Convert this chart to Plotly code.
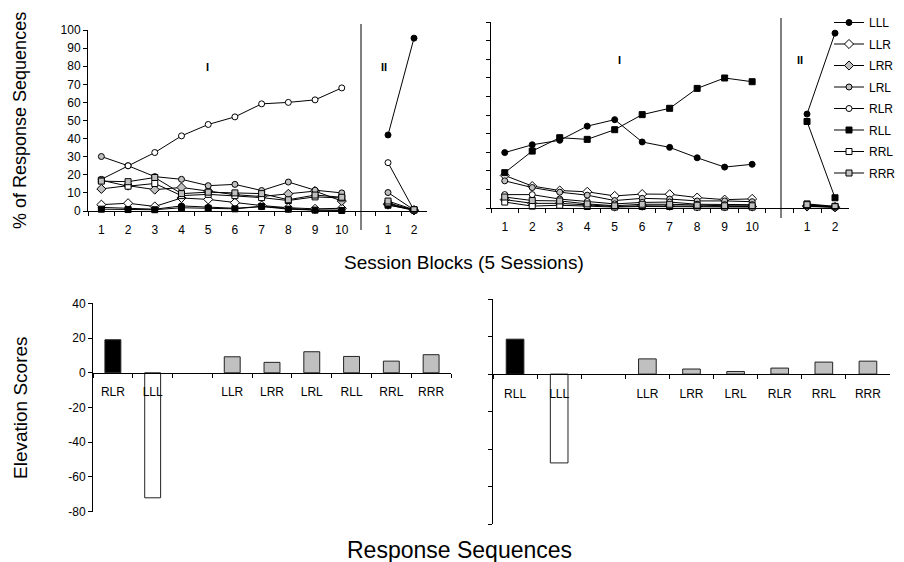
import plotly.graph_objects as go

W, H = 904, 562          # browser window
OFF = 8                  # default page body margin
FW, FH = W - OFF, H - OFF  # figure size

# ---------------- data ----------------
seq_names = ["LLL", "LLR", "LRR", "LRL", "RLR", "RLL", "RRL", "RRR"]
blocks_I = ["1", "2", "3", "4", "5", "6", "7", "8", "9", "10"]
blocks_II = ["1", "2"]

# Left panel (RLR target in phase I)
left_I = {
    "LLL": [2.0, 1.5, 1.0, 2.8, 2.0, 1.5, 2.5, 1.5, 0.5, 0.5],
    "LLR": [3.5, 4.3, 2.5, 7.2, 6.4, 4.6, 3.0, 1.8, 1.2, 1.5],
    "LRR": [12.2, 14.0, 11.8, 13.0, 11.0, 9.0, 8.0, 9.5, 11.0, 5.5],
    "LRL": [30.1, 25.0, 19.0, 17.5, 14.0, 14.7, 11.3, 16.0, 11.5, 10.0],
    "RLR": [17.5, 25.0, 32.3, 41.5, 47.8, 52.0, 59.2, 60.0, 61.4, 68.0],
    "RLL": [1.0, 0.8, 0.7, 1.8, 1.5, 1.2, 2.5, 1.0, 0.5, 0.3],
    "RRL": [17.0, 13.7, 15.2, 8.5, 9.2, 8.5, 7.4, 5.8, 7.8, 7.2],
    "RRR": [16.5, 16.2, 18.5, 9.6, 10.4, 10.0, 9.6, 6.2, 8.8, 7.6],
}
left_II = {
    "LLL": [42.0, 95.5],
    "LLR": [3.5, 0.3],
    "LRR": [4.0, 0.5],
    "LRL": [10.2, 0.6],
    "RLR": [26.7, 0.4],
    "RLL": [3.2, 0.8],
    "RRL": [4.5, 0.5],
    "RRR": [5.5, 0.7],
}
# Right panel (RLL target in phase I)
right_I = {
    "LLL": [29.8, 34.0, 36.4, 44.0, 47.5, 35.5, 32.6, 27.0, 22.0, 23.5],
    "LLR": [17.5, 11.8, 9.4, 8.7, 6.5, 7.5, 7.4, 5.6, 4.5, 4.9],
    "LRR": [4.5, 2.5, 2.5, 1.5, 0.8, 1.2, 1.2, 0.8, 0.8, 0.8],
    "LRL": [14.6, 11.0, 8.5, 6.9, 4.0, 5.2, 4.8, 3.8, 3.8, 3.4],
    "RLR": [7.2, 7.2, 4.8, 3.5, 2.2, 3.0, 3.2, 2.0, 1.8, 1.8],
    "RLL": [19.0, 30.6, 37.8, 36.9, 42.1, 50.2, 53.6, 64.3, 69.9, 67.9],
    "RRL": [3.2, 1.0, 1.5, 0.8, 0.5, 0.8, 0.8, 0.5, 0.5, 0.5],
    "RRR": [5.9, 4.0, 3.8, 2.2, 1.2, 2.0, 2.0, 1.5, 1.2, 1.2],
}
right_II = {
    "LLL": [50.5, 94.0],
    "LLR": [1.2, 0.5],
    "LRR": [0.8, 0.4],
    "LRL": [1.0, 0.5],
    "RLR": [1.5, 0.6],
    "RLL": [46.5, 5.5],
    "RRL": [2.2, 0.9],
    "RRR": [1.8, 0.7],
}

# Elevation scores
elev_left_cats = ["RLR", "LLL", " ", "LLR", "LRR", "LRL", "RLL", "RRL", "RRR"]
elev_left_vals = [19.0, -72.0, None, 9.2, 6.0, 12.1, 9.4, 6.7, 10.4]
elev_right_cats = ["RLL", "LLL", " ", "LLR", "LRR", "LRL", "RLR", "RRL", "RRR"]
elev_right_vals = [18.6, -47.3, None, 8.1, 2.7, 1.4, 3.2, 6.4, 6.9]

pct_ticks = [0, 10, 20, 30, 40, 50, 60, 70, 80, 90, 100]
elev_ticks = [40, 20, 0, -20, -40, -60, -80]
elev_ticktext = ["40", "20", "0", "-20", "-40", "-60", "-80"]

# ---------------- styles ----------------
BLACK, WHITE, GRAY = "#000000", "#FFFFFF", "#C0C0C0"
marker_style = {
    "LLL": ("circle", BLACK, 6),
    "LLR": ("diamond", WHITE, 7),
    "LRR": ("diamond", GRAY, 7),
    "LRL": ("circle", GRAY, 6),
    "RLR": ("circle", WHITE, 6),
    "RLL": ("square", BLACK, 6),
    "RRL": ("square", WHITE, 6),
    "RRR": ("square", GRAY, 6),
}
FONT = "Arial, Liberation Sans, sans-serif"


def px_x(p):
    return (p - OFF) / FW


def px_y(p):
    return 1 - (p - OFF) / FH


fig = go.Figure()

panels = [
    (left_I, blocks_I, "x", "y", False),
    (left_II, blocks_II, "x2", "y", False),
    (right_I, blocks_I, "x3", "y2", True),
    (right_II, blocks_II, "x4", "y2", False),
]
for data, xs, xa, ya, show in panels:
    for name in seq_names:
        sym, col, sz = marker_style[name]
        fig.add_trace(go.Scatter(
            x=xs, y=data[name], xaxis=xa, yaxis=ya, name=name,
            mode="lines+markers", legendgroup=name, showlegend=show,
            line=dict(color="black", width=1),
            marker=dict(symbol=sym, color=col, size=sz,
                        line=dict(color="black", width=1)),
            cliponaxis=False,
        ))


def bar_colors(cats):
    out = []
    for i, c in enumerate(cats):
        if i == 0:
            out.append(BLACK)
        elif c == "LLL":
            out.append(WHITE)
        else:
            out.append(GRAY)
    return out


fig.add_trace(go.Bar(x=elev_left_cats, y=elev_left_vals, xaxis="x5", yaxis="y3",
                     width=0.4, showlegend=False,
                     marker=dict(color=bar_colors(elev_left_cats),
                                 line=dict(color="#222222", width=1))))
fig.add_trace(go.Bar(x=elev_right_cats, y=elev_right_vals, xaxis="x6", yaxis="y4",
                     width=0.4, showlegend=False,
                     marker=dict(color=bar_colors(elev_right_cats),
                                 line=dict(color="#222222", width=1))))

tickfont = dict(family=FONT, size=12, color="black")
common_x = dict(type="category", tickson="boundaries", ticks="outside", ticklen=4,
                tickcolor="black", showline=True, linecolor="black", linewidth=1,
                showgrid=False, zeroline=False, tickfont=tickfont, fixedrange=True,
                ticklabelstandoff=8, automargin=False)
common_y = dict(showline=True, linecolor="black", linewidth=1, ticks="outside",
                ticklen=4, tickcolor="black", showgrid=False, zeroline=False,
                tickfont=tickfont, fixedrange=True, automargin=False)

fig.update_layout(
    width=FW, height=FH, autosize=False,
    margin=dict(l=0, r=0, t=0, b=0, pad=0),
    paper_bgcolor="white", plot_bgcolor="rgba(0,0,0,0)",
    font=dict(family=FONT, color="black"),
    barmode="overlay",
    xaxis=dict(common_x, domain=[px_x(88), px_x(361)], range=[-0.5, 9.72],
               anchor="y", categoryorder="array", categoryarray=blocks_I),
    xaxis2=dict(common_x, domain=[px_x(361), px_x(427)], range=[-1.04, 1.5],
                anchor="y", categoryorder="array", categoryarray=blocks_II),
    xaxis3=dict(common_x, domain=[px_x(491), px_x(781)], range=[-0.5, 10.05],
                anchor="y2", categoryorder="array", categoryarray=blocks_I),
    xaxis4=dict(common_x, domain=[px_x(781), px_x(849)], range=[-0.93, 1.5],
                anchor="y2", categoryorder="array", categoryarray=blocks_II),
    yaxis=dict(common_y, domain=[px_y(211), px_y(30)], range=[0, 100],
               tickvals=pct_ticks, anchor="x"),
    yaxis2=dict(common_y, domain=[px_y(208), px_y(22)], range=[0, 100],
                tickvals=pct_ticks, showticklabels=False, anchor="x3"),
    xaxis5=dict(common_x, domain=[px_x(93), px_x(451)], range=[-0.5, 8.5],
                anchor="free", position=px_y(372.7),
                categoryorder="array", categoryarray=elev_left_cats),
    xaxis6=dict(common_x, domain=[px_x(493), px_x(890)], range=[-0.5, 8.5],
                anchor="free", position=px_y(374.3),
                categoryorder="array", categoryarray=elev_right_cats),
    yaxis3=dict(common_y, domain=[px_y(511.7), px_y(303.3)], range=[-80, 40],
                tickvals=elev_ticks, ticktext=elev_ticktext, anchor="x5"),
    yaxis4=dict(common_y, domain=[px_y(524.3), px_y(299)], range=[-80, 40],
                tickvals=elev_ticks, showticklabels=False, anchor="x6"),
    legend=dict(x=px_x(829), y=1.0, xanchor="left", yanchor="top",
                bgcolor="rgba(0,0,0,0)", font=dict(family=FONT, size=12),
                tracegroupgap=2.5, itemwidth=30),
    showlegend=True,
)

# phase separators
fig.add_shape(type="line", xref="paper", yref="paper",
              x0=px_x(361), x1=px_x(361), y0=px_y(230), y1=px_y(24),
              line=dict(color="black", width=1))
fig.add_shape(type="line", xref="paper", yref="paper",
              x0=px_x(781), x1=px_x(781), y0=px_y(218), y1=px_y(18),
              line=dict(color="black", width=1))

anns = [
    ("I", 207, 67), ("II", 384, 67), ("I", 619, 60), ("II", 800, 60),
]
for t, ax, ay in anns:
    fig.add_annotation(text=f"<b>{t}</b>", x=px_x(ax), y=px_y(ay), xref="paper",
                       yref="paper", showarrow=False, xanchor="center",
                       yanchor="middle",
                       font=dict(family=FONT, size=11, color="black"))

title_specs = [
    ("% of Response Sequences", 20, 121, -90, 18),
    ("Session Blocks (5 Sessions)", 464, 262, 0, 19),
    ("Elevation Scores", 20, 408, -90, 19),
    ("Response Sequences", 459, 550, 0, 23),
]
for t, ax, ay, ang, fs in title_specs:
    fig.add_annotation(text=t, x=px_x(ax), y=px_y(ay), xref="paper", yref="paper",
                       showarrow=False, textangle=ang, xanchor="center",
                       yanchor="middle",
                       font=dict(family=FONT, size=fs, color="black"))

fig.write_html("out.html")
